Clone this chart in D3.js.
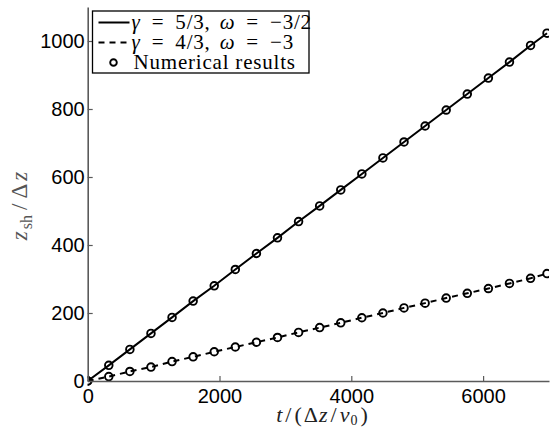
<!DOCTYPE html>
<html>
<head>
<meta charset="utf-8">
<script src="https://cdn.jsdelivr.net/npm/d3@7"></script>
<style>
  html, body { margin: 0; padding: 0; background: #ffffff; }
  #chart { width: 553px; height: 429px; }
</style>
</head>
<body>
<div id="chart"></div>
<script>
// shock position vs time, two adiabatic indices
const times = [0, 320, 640, 960, 1280, 1600, 1920, 2240, 2560, 2880, 3200, 3520,
    3840, 4160, 4480, 4800, 5120, 5440, 5760, 6080, 6400, 6720, 6970];
const gamma53 = [0, 46, 93, 140, 187, 235, 280, 328, 375, 421, 469, 515,
    562, 609, 656, 703, 750, 797, 844, 891, 938, 987, 1023];
const gamma43 = [0, 13, 28, 41, 57, 71, 86, 100, 114, 128, 143, 157,
    171, 186, 200, 215, 229, 244, 258, 272, 287, 302, 316];
const xTicks = [0, 2000, 4000, 6000];
const yTicks = [0, 200, 400, 600, 800, 1000];

document.addEventListener('DOMContentLoaded', function() {
    drawChart();
});

// writes [text, italic, dx, dy, size] pieces into a text element
function addParts(textSel, parts) {
    parts.forEach(p => {
        textSel.append("tspan")
            .attr("font-style", p[1] ? "italic" : null)
            .attr("dx", p[2] || null)
            .attr("dy", p[3] || null)
            .style("font-size", p[4] ? p[4] + "px" : null)
            .text(p[0]);
    });
}

function drawChart() {
    const width = 553, height = 429;
    const margin = { top: 7, right: 4, bottom: 48, left: 87.7 };

    const svg = d3.select("#chart")
        .append("svg")
        .attr("width", width)
        .attr("height", height);

    const x = d3.scaleLinear()
        .domain([0, 7000])
        .range([margin.left, width - margin.right]);
    const y = d3.scaleLinear()
        .domain([0, 1100])
        .range([height - margin.bottom, margin.top]);

    // clip so markers past the right edge get cut like in the figure
    svg.append("defs").append("clipPath")
        .attr("id", "plot-clip")
        .append("rect")
        .attr("x", margin.left)
        .attr("y", 0)
        .attr("width", width - margin.right - margin.left)
        .attr("height", height - margin.bottom + 6);

    const plot = svg.append("g").attr("clip-path", "url(#plot-clip)");

    const series = [
        { name: "g53", values: gamma53, dash: null },
        { name: "g43", values: gamma43, dash: "6,5" }
    ];

    const line = d3.line()
        .x(d => x(d[0]))
        .y(d => y(d[1]));

    series.forEach(s => {
        const pts = times.map((t, i) => [t, s.values[i]]);
        plot.append("path")
            .datum(pts)
            .attr("d", line)
            .attr("fill", "none")
            .attr("stroke", "#000")
            .attr("stroke-width", 2)
            .attr("stroke-dasharray", s.dash);

        plot.selectAll(".pt-" + s.name)
            .data(pts)
            .enter()
            .append("circle")
            .attr("class", "pt-" + s.name)
            .attr("cx", d => x(d[0]))
            .attr("cy", d => y(d[1]))
            .attr("r", 3.8)
            .attr("fill", "none")
            .attr("stroke", "#000")
            .attr("stroke-width", 1.9);
    });

    // axes (only left and bottom, ticks pointing inward)
    const xAxis = svg.append("g")
        .attr("transform", `translate(0,${y(0)})`)
        .call(d3.axisBottom(x).tickValues(xTicks).tickFormat(d3.format("d"))
            .tickSizeInner(-5).tickSizeOuter(0).tickPadding(8));

    const yAxis = svg.append("g")
        .attr("transform", `translate(${x(0)},0)`)
        .call(d3.axisLeft(y).tickValues(yTicks).tickFormat(d3.format("d"))
            .tickSizeInner(-5).tickSizeOuter(0).tickPadding(3));

    [xAxis, yAxis].forEach(ax => {
        ax.select(".domain").attr("stroke", "#5a5a5a").attr("stroke-width", 1.6);
        ax.selectAll(".tick line").attr("stroke", "#5a5a5a").attr("stroke-width", 1.2);
        ax.selectAll("text")
            .attr("fill", "#000")
            .style("font-family", "'Liberation Sans', Arial, sans-serif")
            .style("font-size", "20px");
    });

    // axis titles
    const xTitle = svg.append("text")
        .attr("x", 322)
        .attr("y", 422)
        .attr("text-anchor", "middle")
        .style("font-family", "'Liberation Serif', serif")
        .style("font-size", "22px")
        .attr("fill", "#222");
    addParts(xTitle, [["t", true], ["/", false, 3], ["(", false, 3], ["Δ", false, 2],
        ["z", true, 1], ["/", false, 3], ["v", true, 3], ["0", false, 1, 3, 14], [")", false, 3, -3]]);

    const yTitle = svg.append("text")
        .attr("transform", "translate(27,206) rotate(-90)")
        .attr("text-anchor", "middle")
        .style("font-family", "'Liberation Serif', serif")
        .style("font-size", "23px")
        .attr("fill", "#555");
    addParts(yTitle, [["z", true], ["sh", false, 2, 5, 16], ["/", false, 5, -5],
        ["Δ", false, 5], ["z", true, 3]]);

    // legend
    const legend = svg.append("g");
    const lx = 92.5, ly = 11, lw = 216.5, lh = 62;
    legend.append("rect")
        .attr("x", lx).attr("y", ly)
        .attr("width", lw).attr("height", lh)
        .attr("fill", "#fff")
        .attr("stroke", "#000")
        .attr("stroke-width", 1.3);

    const rows = [
        { kind: "line", dash: null, parts: [["γ", true], [" =", false, 5], [" 5/3,", false, 5],
            ["ω", true, 9], [" =", false, 5], [" −3/2", false, 5]] },
        { kind: "line", dash: "6,5", parts: [["γ", true], [" =", false, 5], [" 4/3,", false, 5],
            ["ω", true, 9], [" =", false, 5], [" −3", false, 5]] },
        { kind: "marker", dash: null, parts: [["Numerical results", false]] }
    ];

    rows.forEach((r, i) => {
        const cy = ly + 11.5 + i * 20;
        if (r.kind === "line") {
            legend.append("line")
                .attr("x1", lx + 6).attr("x2", lx + 37)
                .attr("y1", cy).attr("y2", cy)
                .attr("stroke", "#000")
                .attr("stroke-width", 2)
                .attr("stroke-dasharray", r.dash);
        } else {
            legend.append("circle")
                .attr("cx", lx + 21).attr("cy", cy)
                .attr("r", 3.3)
                .attr("fill", "none")
                .attr("stroke", "#000")
                .attr("stroke-width", 1.9);
        }
        const t = legend.append("text")
            .attr("x", r.kind === "line" ? lx + 39 : lx + 41)
            .attr("y", cy + 6)
            .style("font-family", "'Liberation Serif', serif")
            .style("font-size", "21px")
            .style("letter-spacing", "0.8px")
            .attr("fill", "#000");
        addParts(t, r.parts);
    });
}
</script>
</body>
</html>
